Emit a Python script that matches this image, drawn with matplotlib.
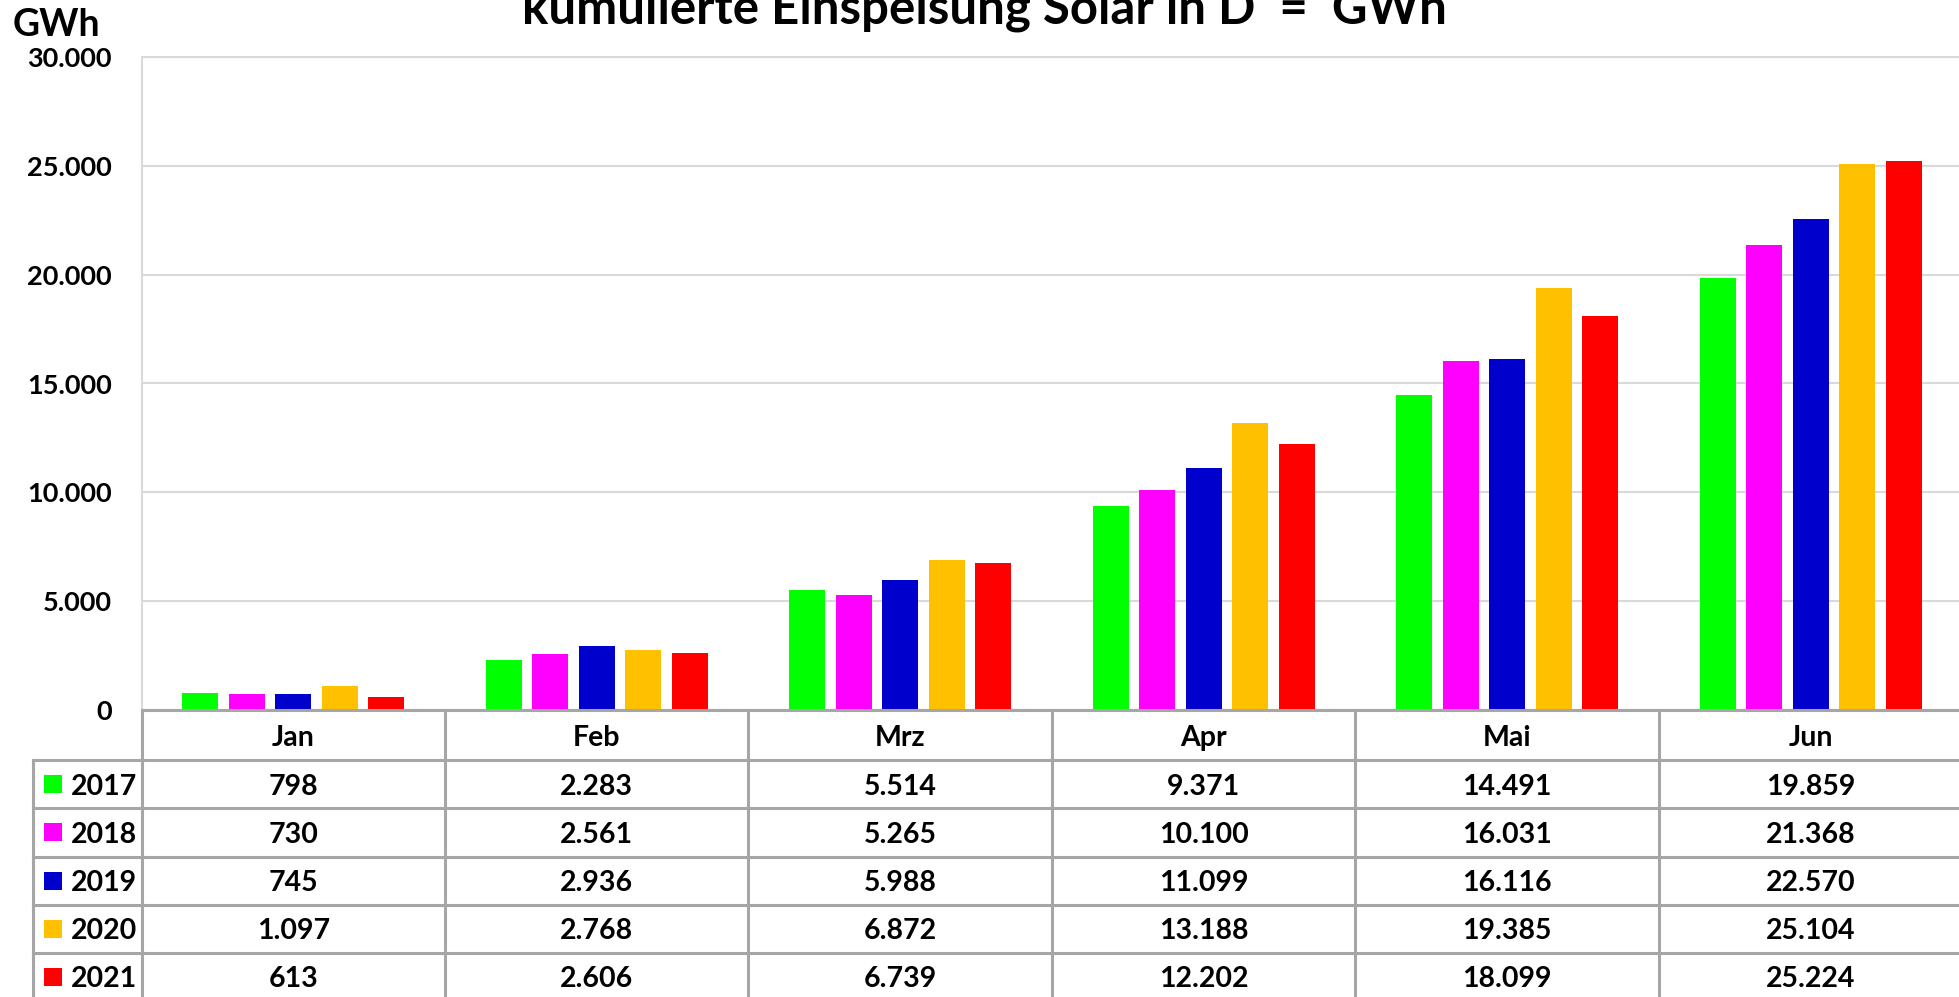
import matplotlib
matplotlib.use('Agg')
import matplotlib.pyplot as plt
from matplotlib.transforms import blended_transform_factory

# ---------------- data ----------------
months = ['Jan', 'Feb', 'Mrz', 'Apr', 'Mai', 'Jun']
years = ['2017', '2018', '2019', '2020', '2021']
v2017 = [798, 2283, 5514, 9371, 14491, 19859]
v2018 = [730, 2561, 5265, 10100, 16031, 21368]
v2019 = [745, 2936, 5988, 11099, 16116, 22570]
v2020 = [1097, 2768, 6872, 13188, 19385, 25104]
v2021 = [613, 2606, 6739, 12202, 18099, 25224]
series = [v2017, v2018, v2019, v2020, v2021]
colors = ['#00FF00', '#FF00FF', '#0000CC', '#FFC000', '#FF0000']
yticks = [0, 5000, 10000, 15000, 20000, 25000, 30000]
ytick_labels = ['0', '5.000', '10.000', '15.000', '20.000', '25.000', '30.000']
title = 'kumulierte Einspeisung Solar in D  =  GWh'
unit = 'GWh'

def fmt(v):
    return f"{v:,}".replace(',', '.')

# ---------------- layout ----------------
FONT = ['Lato', 'Open Sans', 'DejaVu Sans']
plt.rcParams['font.family'] = FONT
plt.rcParams['font.weight'] = 'bold'

W, H = 1959, 997
fig = plt.figure(figsize=(W / 100, H / 100), dpi=100)
fig.patch.set_facecolor('white')

CW = 303.5
L, T, B = 141.5, 57, 710
R = L + 6 * CW
ax = fig.add_axes([L / W, 1 - B / H, (R - L) / W, (B - T) / H])
ax.set_xlim(-0.5, 5.5)
ax.set_ylim(0, 30000)

step, bw = 0.1535, 0.1186
for i, (vals, c) in enumerate(zip(series, colors)):
    xs = [m + (i - 2) * step for m in range(len(months))]
    ax.bar(xs, vals, width=bw, color=c, zorder=3, linewidth=0)

ax.set_yticks(yticks)
ax.set_yticklabels(ytick_labels, fontsize=19.5, fontweight='bold')
ax.tick_params(axis='y', length=0, pad=21.5)
ax.set_xticks([])
ax.grid(axis='y', color='#D9D9D9', lw=1.5, zorder=0)
for s in ['right', 'bottom']:
    ax.spines[s].set_visible(False)
ax.spines['left'].set_color('#D9D9D9')
ax.spines['left'].set_linewidth(1.5)
ax.spines['top'].set_color('#D9D9D9')
ax.spines['top'].set_linewidth(1.5)

# ---------------- table overlay ----------------
tab = fig.add_axes([0, 0, 1, 1], zorder=5)
tab.set_xlim(0, W)
tab.set_ylim(H, 0)
tab.axis('off')
tab.patch.set_alpha(0)
tr = blended_transform_factory(ax.transData, tab.transData)

LC = '#A6A6A6'
LW = 2.2
row_edges = [760, 808, 856.5, 904.5, 952.5, 1001]
label_left = 33

# horizontal lines
tab.plot([-0.5, 5.5], [B, B], color=LC, lw=LW, transform=tr, clip_on=False)
for y in row_edges[:-1]:
    tab.plot([label_left, W + 10], [y, y], color=LC, lw=LW, clip_on=False)
# vertical lines
for k in range(len(months) + 1):
    tab.plot([k - 0.5, k - 0.5], [B, 1005], color=LC, lw=LW, transform=tr, clip_on=False)
tab.plot([label_left, label_left], [row_edges[0], 1005], color=LC, lw=LW, clip_on=False)

# header
hy = (B + row_edges[0]) / 2
for i, m in enumerate(months):
    tab.text(i, hy, m, transform=tr, ha='center', va='center_baseline',
             fontsize=20.5, fontweight='bold', color='black')

# rows
for r, (yr, vals, c) in enumerate(zip(years, series, colors)):
    cy = (row_edges[r] + row_edges[r + 1]) / 2
    tab.add_patch(plt.Rectangle((44, cy - 9), 18, 18, facecolor=c, edgecolor='none'))
    tab.text(71, cy, yr, ha='left', va='center_baseline', fontsize=20.5,
             fontweight='bold', color='black')
    for i, v in enumerate(vals):
        tab.text(i, cy, fmt(v), transform=tr, ha='center', va='center_baseline',
                 fontsize=20.5, fontweight='bold', color='black')

# unit label
tab.text(13, 36, unit, ha='left', va='baseline', fontsize=27, fontweight='bold')

# title, fitted to its width in the reference
t = tab.text(984, 23, title, ha='center', va='baseline', fontsize=30, fontweight='bold')
fig.canvas.draw()
wpx = t.get_window_extent(fig.canvas.get_renderer()).width
t.set_fontsize(30 * 922 / wpx)

fig.savefig('out.png', dpi=100, facecolor='white')
